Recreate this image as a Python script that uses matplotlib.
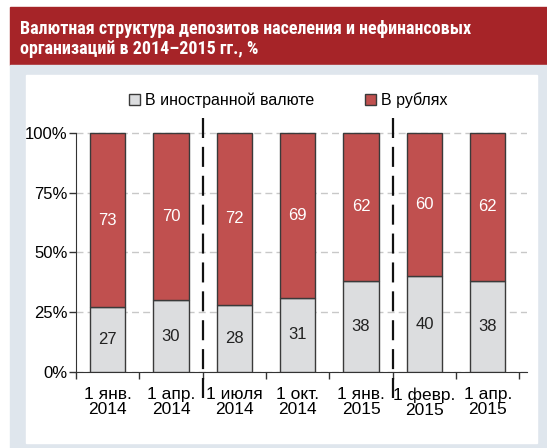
"""
Currency structure of deposits, 2014-2015: stacked bars.
"""

import numpy as np
import matplotlib.pyplot as plt
from matplotlib import font_manager
from matplotlib.patches import Rectangle

plt.rcParams['font.family'] = ['Liberation Sans', 'DejaVu Sans']

# condensed bold face for the title, if there is one
installed = {f.name for f in font_manager.fontManager.ttflist}
title_font, title_size = 'Liberation Sans', 11
for name in ['Roboto Condensed', 'Archivo Narrow', 'PT Sans Narrow', 'Liberation Sans Narrow']:
    if name in installed:
        title_font, title_size = name, 13
        break

dates = ['1 янв.\n2014', '1 апр.\n2014', '1 июля\n2014', '1 окт.\n2014',
         '1 янв.\n2015', '1 февр.\n2015', '1 апр.\n2015']
foreign = [27, 30, 28, 31, 38, 40, 38]
rubles = [73, 70, 72, 69, 62, 60, 62]
yticks = [0, 25, 50, 75, 100]
separators = [1.5, 4.5]

red = '#c0504f'
grey = '#dcdddf'
edge = '#3a3a3a'

fig = plt.figure(figsize=(5.47, 4.48), dpi=100)

# frame: red title band, light panel, white inner panel
fig.patches.append(Rectangle((10 / 547, 1 - 65 / 448), 537 / 547, 58 / 448,
                             transform=fig.transFigure, color='#a62428', zorder=-3))
fig.patches.append(Rectangle((10 / 547, 0), 537 / 547, 1 - 65 / 448,
                             transform=fig.transFigure, color='#dfe6ed', zorder=-3))
fig.patches.append(Rectangle((26 / 547, 5 / 448), 511 / 547, 368 / 448,
                             transform=fig.transFigure, color='white', zorder=-2))
fig.text(20 / 547, 1 - 39 / 448,
         'Валютная структура депозитов населения и нефинансовых\nорганизаций в 2014–2015 гг., %',
         color='white', fontsize=title_size, fontweight='bold', linespacing=1.1,
         va='center', ha='left', family=[title_font, 'DejaVu Sans'])

ax = fig.add_axes([76 / 547, 1 - 372 / 448, 451 / 547, (372 - 116) / 448])
ax.patch.set_alpha(0)

x = np.arange(len(dates))
w = 0.56
ax.bar(x, foreign, w, color=grey, edgecolor=edge, linewidth=1, zorder=3,
       label='В иностранной валюте')
ax.bar(x, rubles, w, bottom=foreign, color=red, edgecolor=edge, linewidth=1, zorder=3,
       label='В рублях')

for i in range(len(dates)):
    ax.text(x[i], foreign[i] / 2, str(foreign[i]), ha='center', va='center',
            fontsize=12, color='#222222', zorder=4)
    ax.text(x[i], foreign[i] + rubles[i] / 2, str(rubles[i]), ha='center', va='center',
            fontsize=12, color='white', zorder=4)

for s in separators:
    ax.plot([s, s], [-11, 107], color='#111111', lw=1.6, dashes=(9, 4), clip_on=False, zorder=5)

ax.set_xlim(-0.39, 6.62)
ax.set_ylim(0, 107)
ax.set_yticks(yticks)
ax.set_yticklabels(['%d%%' % v for v in yticks], fontsize=12)
ax.yaxis.grid(True, color='#c8c8c8', linestyle=(0, (5, 3)), lw=1)
ax.set_axisbelow(True)

ax.set_xticks(x)
ax.set_xticklabels(dates, fontsize=12.5, linespacing=1.0)
ax.set_xticks(np.arange(len(dates) + 1) - 0.5, minor=True)
ax.tick_params(axis='x', which='major', length=0, pad=11)
ax.tick_params(axis='x', which='minor', length=5, color='#333333', width=1)
ax.tick_params(axis='y', length=5, color='#333333', width=1, pad=1)

for sp in ['top', 'right']:
    ax.spines[sp].set_visible(False)
ax.spines['left'].set_bounds(0, 100)
ax.spines['left'].set_color('#333333')
ax.spines['bottom'].set_color('#333333')

ax.legend(loc='lower center', bbox_to_anchor=(0.47, 1.0), ncol=2, frameon=False,
          fontsize=11.5, handlelength=0.7, handleheight=0.7, handletextpad=0.3,
          columnspacing=3.2, borderaxespad=0.1)

plt.savefig('out.png', dpi=100)
